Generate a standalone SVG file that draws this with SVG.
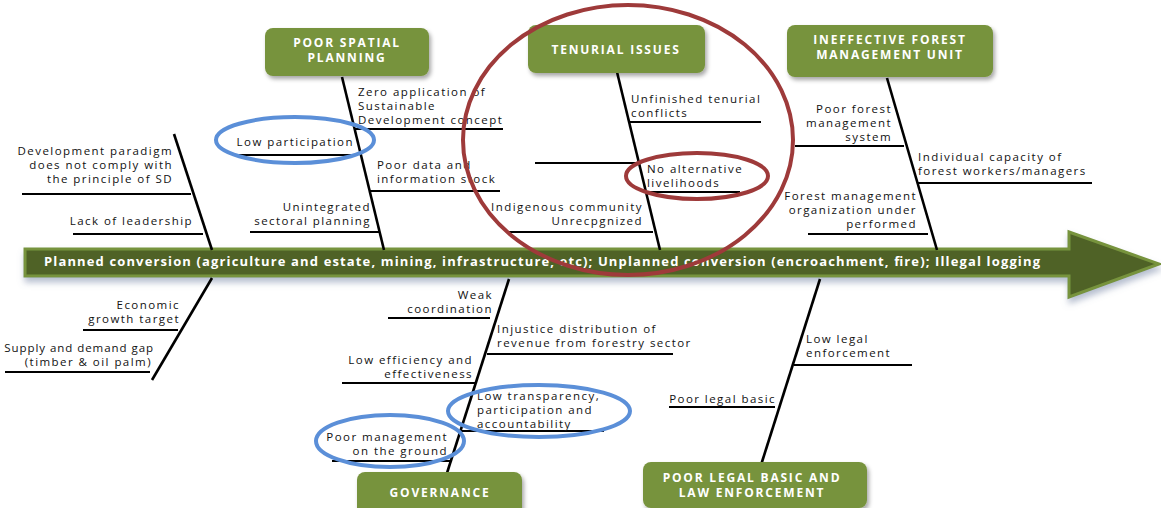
<svg xmlns="http://www.w3.org/2000/svg" width="1161" height="508" viewBox="0 0 1161 508">
<style>
.box{fill:#77933c;filter:url(#sh)}
.bt{font-family:"Open Sans","Liberation Sans",sans-serif;font-weight:bold;font-size:12px;fill:#fff;text-anchor:middle;letter-spacing:1.8px}
.t{font-family:"Open Sans","Liberation Sans",sans-serif;font-size:11.5px;fill:#111;letter-spacing:1.45px}
.e{text-anchor:end}
.bone{stroke:#000;stroke-width:2.6;fill:none}
.sub{stroke:#000;stroke-width:2;fill:none}
.red{fill:none;stroke:#9e3a3a;stroke-width:4}
.blue{fill:none;stroke:#5b8fd8;stroke-width:4}
</style>
<defs>
<filter id="sh" x="-10%" y="-20%" width="130%" height="150%">
<feDropShadow dx="2" dy="3" stdDeviation="2" flood-color="#000" flood-opacity="0.35"/>
</filter>
<filter id="ash" x="-5%" y="-30%" width="110%" height="180%">
<feDropShadow dx="1" dy="5" stdDeviation="3" flood-color="#6d7fa0" flood-opacity="0.5"/>
</filter>
</defs>
<rect width="1161" height="508" fill="#fff"/>

<g id="spine">
<path d="M25,249 H1069 V232 L1159,264 L1069,297 V276 H25 Z" fill="#4f6228" stroke="#77933c" stroke-width="3" filter="url(#ash)"/>
<text x="44" y="266" textLength="996" lengthAdjust="spacing" font-family="Open Sans, Liberation Sans, sans-serif" font-weight="bold" font-size="13px" fill="#fff">Planned conversion (agriculture and estate, mining, infrastructure, etc); Unplanned conversion (encroachment, fire); Illegal logging</text>
</g>

<g id="connectors">
<line class="bone" x1="174" y1="134" x2="212" y2="250"/>
<line class="sub" x1="22" y1="194" x2="191" y2="194"/>
<line class="sub" x1="73" y1="234" x2="203" y2="234"/>
<line class="bone" x1="342" y1="77" x2="384" y2="250"/>
<line class="sub" x1="355" y1="129" x2="503" y2="129"/>
<line class="sub" x1="233" y1="155" x2="357" y2="155"/>
<line class="sub" x1="370" y1="191" x2="500" y2="191"/>
<line class="sub" x1="250" y1="232" x2="380" y2="232"/>
<line class="bone" x1="617" y1="72" x2="660" y2="250"/>
<line class="sub" x1="630" y1="122" x2="761" y2="122"/>
<line class="sub" x1="535" y1="163" x2="637" y2="163"/>
<line class="sub" x1="645" y1="192" x2="740" y2="192"/>
<line class="sub" x1="508" y1="232" x2="653" y2="232"/>
<line class="bone" x1="887" y1="78" x2="937" y2="250"/>
<line class="sub" x1="795" y1="146" x2="904" y2="146"/>
<line class="sub" x1="917" y1="183" x2="1092" y2="183"/>
<line class="sub" x1="808" y1="234" x2="928" y2="234"/>
<line class="bone" x1="212" y1="278" x2="152" y2="380"/>
<line class="sub" x1="83" y1="330" x2="178" y2="330"/>
<line class="sub" x1="5" y1="372" x2="150" y2="372"/>
<line class="bone" x1="509" y1="279" x2="447" y2="473"/>
<line class="sub" x1="388" y1="318" x2="490" y2="318"/>
<line class="sub" x1="487" y1="354" x2="673" y2="354"/>
<line class="sub" x1="342" y1="383" x2="475" y2="383"/>
<line class="sub" x1="460" y1="431" x2="604" y2="431"/>
<line class="sub" x1="332" y1="461" x2="450" y2="461"/>
<line class="bone" x1="820" y1="279" x2="761" y2="465"/>
<line class="sub" x1="794" y1="365" x2="912" y2="365"/>
<line class="sub" x1="669" y1="407" x2="775" y2="407"/>
</g>

<g id="cause-left-top">
<text class="t e" x="173" y="155">Development paradigm</text>
<text class="t e" x="173" y="169">does not comply with</text>
<text class="t e" x="173" y="183">the principle of SD</text>
<text class="t e" x="193" y="225">Lack of leadership</text>
</g>

<g id="poor-spatial-planning">
<rect class="box" x="265" y="28" width="164" height="48" rx="8"/>
<text class="bt" x="347" y="47">POOR SPATIAL</text>
<text class="bt" x="347" y="62">PLANNING</text>
<text class="t" x="358" y="96">Zero application of</text>
<text class="t" x="358" y="110">Sustainable</text>
<text class="t" x="358" y="124">Development concept</text>
<text class="t e" x="354" y="146">Low participation</text>
<text class="t" x="377" y="169">Poor data and</text>
<text class="t" x="377" y="183">information stock</text>
<text class="t e" x="371" y="211">Unintegrated</text>
<text class="t e" x="371" y="225">sectoral planning</text>
</g>

<g id="tenurial-issues">
<rect class="box" x="528" y="25" width="177" height="48" rx="8"/>
<text class="bt" x="616" y="54">TENURIAL ISSUES</text>
<text class="t" x="631" y="103">Unfinished tenurial</text>
<text class="t" x="631" y="117">conflicts</text>
<text class="t" x="647" y="173">No alternative</text>
<text class="t" x="647" y="187">livelihoods</text>
<text class="t e" x="643" y="211">Indigenous community</text>
<text class="t e" x="643" y="225">Unrecpgnized</text>
</g>

<g id="ineffective-fmu">
<rect class="box" x="787" y="25" width="206" height="52" rx="8"/>
<text class="bt" x="890" y="44">INEFFECTIVE FOREST</text>
<text class="bt" x="890" y="59">MANAGEMENT UNIT</text>
<text class="t e" x="892" y="113">Poor forest</text>
<text class="t e" x="892" y="127">management</text>
<text class="t e" x="892" y="141">system</text>
<text class="t" x="918" y="161">Individual capacity of</text>
<text class="t" x="918" y="175">forest workers/managers</text>
<text class="t e" x="917" y="200">Forest management</text>
<text class="t e" x="917" y="214">organization under</text>
<text class="t e" x="917" y="228">performed</text>
</g>

<g id="cause-left-bottom">
<text class="t e" x="180" y="309">Economic</text>
<text class="t e" x="180" y="323">growth target</text>
<text class="t e" x="154" y="352" style="letter-spacing:0.95px">Supply and demand gap</text>
<text class="t e" x="152" y="366">(timber &amp; oil palm)</text>
</g>

<g id="governance">
<rect class="box" x="357" y="472" width="165" height="45" rx="8"/>
<text class="bt" x="440" y="497">GOVERNANCE</text>
<text class="t e" x="493" y="299">Weak</text>
<text class="t e" x="493" y="313">coordination</text>
<text class="t" x="497" y="333">Injustice distribution of</text>
<text class="t" x="497" y="347">revenue from forestry sector</text>
<text class="t e" x="473" y="364">Low efficiency and</text>
<text class="t e" x="473" y="378">effectiveness</text>
<text class="t" x="477" y="400">Low transparency,</text>
<text class="t" x="477" y="414">participation and</text>
<text class="t" x="477" y="428">accountability</text>
<text class="t e" x="448" y="441">Poor management</text>
<text class="t e" x="448" y="455">on the ground</text>
</g>

<g id="poor-legal-basic">
<rect class="box" x="643" y="462" width="224" height="46" rx="8"/>
<text class="bt" x="752" y="482">POOR LEGAL BASIC AND</text>
<text class="bt" x="752" y="497">LAW ENFORCEMENT</text>
<text class="t" x="806" y="343">Low legal</text>
<text class="t" x="806" y="357">enforcement</text>
<text class="t e" x="776" y="403">Poor legal basic</text>
</g>

<g id="highlights">
<ellipse class="red" cx="628" cy="140" rx="165" ry="135"/>
<ellipse class="red" cx="697" cy="176" rx="71" ry="23"/>
<ellipse class="blue" cx="295" cy="140" rx="79" ry="23"/>
<ellipse class="blue" cx="539" cy="411" rx="91" ry="26"/>
<ellipse class="blue" cx="390" cy="441" rx="74" ry="26"/>
</g>
</svg>
